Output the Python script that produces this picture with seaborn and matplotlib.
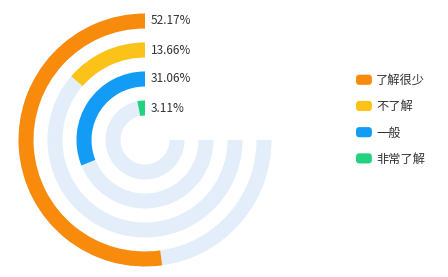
import numpy as np
import matplotlib
matplotlib.use("Agg")
import matplotlib.pyplot as plt
import seaborn as sns
from matplotlib.patches import Patch, FancyBboxPatch
from matplotlib.legend_handler import HandlerPatch

categories = ["了解很少", "不了解", "一般", "非常了解"]
values = [52.17, 13.66, 31.06, 3.11]
labels = ["52.17%", "13.66%", "31.06%", "3.11%"]
colors = ["#F98B0C", "#FBC318", "#139CF5", "#22D27E"]
track_color = "#E4EEFB"

sns.set_theme(style="white")
plt.rcParams["font.family"] = ["Noto Sans CJK SC", "DejaVu Sans"]

W, H = 448, 277
fig = plt.figure(figsize=(W / 100, H / 100), dpi=100)
cx, cy, R = 145, 140, 127
ax = fig.add_axes([(cx - R) / W, (H - cy - R) / H, 2 * R / W, 2 * R / H], projection="polar")
ax.set_theta_zero_location("N")
ax.set_theta_direction(1)
ax.set_ylim(0, R)
ax.set_axis_off()

radii = [119, 90, 61, 32]
thick = 15
# background tracks (270 degrees)
ax.bar([0] * 4, [thick] * 4, width=[1.5 * np.pi] * 4, bottom=[r - thick / 2 for r in radii],
       align="edge", color=track_color, edgecolor="none")
# value arcs
widths = [v / 100 * 2 * np.pi for v in values]
ax.bar([0] * 4, [thick] * 4, width=widths, bottom=[r - thick / 2 for r in radii],
       align="edge", color=colors, edgecolor="none")

for r, lab in zip(radii, labels):
    ax.annotate(lab, xy=(0, r), xytext=(4, 0), textcoords="offset points",
                ha="left", va="center", fontsize=8.5, color="#333333")


class RoundHandler(HandlerPatch):
    def create_artists(self, legend, orig_handle, xdescent, ydescent, width, height, fontsize, trans):
        p = FancyBboxPatch((-xdescent, -ydescent), width, height,
                           boxstyle="round,pad=0,rounding_size=2.5",
                           facecolor=orig_handle.get_facecolor(), edgecolor="none",
                           transform=trans)
        return [p]


handles = [Patch(facecolor=c, edgecolor="none") for c in colors]
fig.legend(handles, categories, loc="upper left", bbox_to_anchor=(356 / W, 1 - 74 / H),
           frameon=False, fontsize=8.8, handlelength=1.3, handleheight=0.9,
           handletextpad=0.35, labelspacing=1.08, borderpad=0, borderaxespad=0,
           labelcolor="#333333", handler_map={Patch: RoundHandler()})

fig.savefig("out.png", dpi=100, facecolor="white")
